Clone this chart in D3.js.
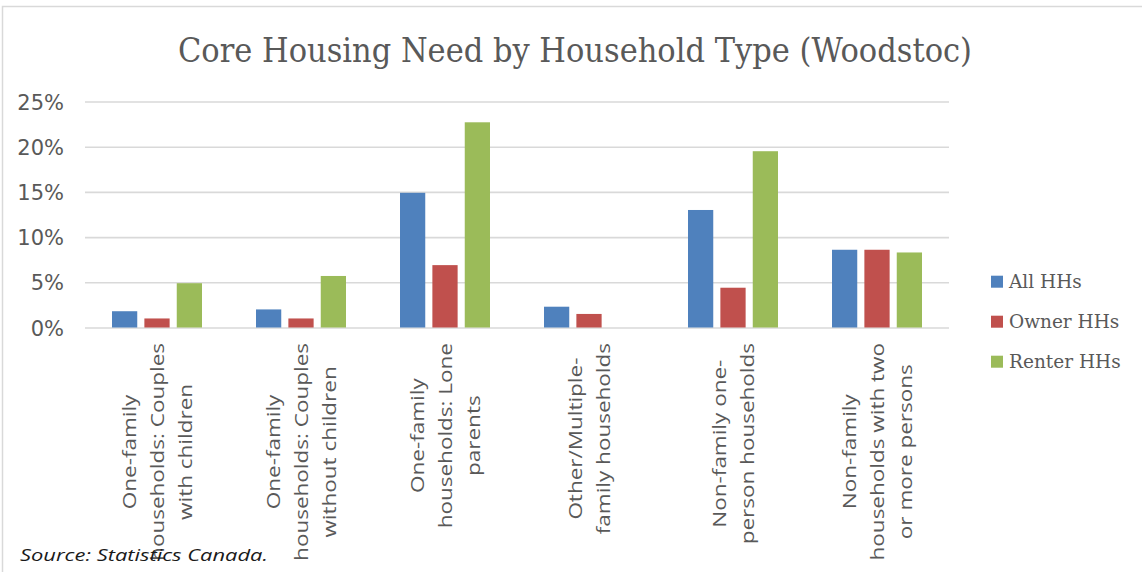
<!DOCTYPE html>
<html>
<head>
<meta charset="utf-8">
<script src="https://cdn.jsdelivr.net/npm/d3@7"></script>
<style>
  html, body { margin: 0; padding: 0; background: #fff; }
  svg { display: block; }
</style>
</head>
<body>
<svg id="chart" width="1142" height="572"></svg>
<script>
// Household types (axis categories), each split into text lines
const categories = [
  ["One-family", "households: Couples", "with children"],
  ["One-family", "households: Couples", "without children"],
  ["One-family", "households: Lone", "parents"],
  ["Other/Multiple-", "family households"],
  ["Non-family one-", "person households"],
  ["Non-family", "households with two", "or more persons"]
];

// Share of households in core housing need (%)
const allHHs    = [1.8, 2.0, 14.9, 2.3, 13.0, 8.6];
const ownerHHs  = [1.0, 1.0, 6.9, 1.5, 4.4, 8.6];
const renterHHs = [4.9, 5.7, 22.7, 0.0, 19.5, 8.3];

const seriesNames  = ["All HHs", "Owner HHs", "Renter HHs"];
const seriesColors = ["#4f81bd", "#c0504d", "#9bbb59"];
const yTicks = [0, 5, 10, 15, 20, 25];

const titleText  = "Core Housing Need by Household Type (Woodstoc)";
const sourceText = "Source: Statistics Canada.";

const seriesValues = [allHHs, ownerHHs, renterHHs];
const catKeys = categories.map((c, i) => i);

const svg = d3.select("#chart");

// outer frame
svg.append("rect")
  .attr("x", 2.5).attr("y", 6.5)
  .attr("width", 1300).attr("height", 700)
  .attr("fill", "#fff")
  .attr("stroke", "#d9d9d9").attr("stroke-width", 1.5);

const plotLeft = 85, plotRight = 949, plotTop = 101.5, plotBottom = 327.5;

const x0 = d3.scaleBand()
  .domain(catKeys)
  .range([plotLeft, plotRight])
  .paddingInner(0.375)
  .paddingOuter(0.1875);

const x1 = d3.scaleBand()
  .domain(seriesNames)
  .range([0, x0.bandwidth()])
  .paddingInner(0.22);

const y = d3.scaleLinear()
  .domain([0, 25])
  .range([plotBottom, plotTop]);

// gridlines + y tick labels
const yAxis = d3.axisLeft(y)
  .tickValues(yTicks)
  .tickSize(-(plotRight - plotLeft))
  .tickPadding(21)
  .tickFormat(d => d + "%");

const gy = svg.append("g")
  .attr("transform", `translate(${plotLeft},0)`)
  .call(yAxis);
gy.select(".domain").remove();
gy.selectAll(".tick line")
  .attr("stroke", "#d9d9d9")
  .attr("stroke-width", 1.6);
gy.selectAll(".tick text")
  .attr("fill", "#595959")
  .attr("font-family", "'DejaVu Sans', sans-serif")
  .attr("font-size", 21)
  .attr("dy", "0.36em");

// bars
const groups = svg.append("g")
  .selectAll("g")
  .data(catKeys)
  .join("g")
  .attr("transform", i => `translate(${x0(i)},0)`);

groups.selectAll("rect")
  .data(i => seriesNames.map((s, k) => ({ s, k, v: seriesValues[k][i] })))
  .join("rect")
  .attr("x", d => x1(d.s))
  .attr("width", x1.bandwidth())
  .attr("y", d => y(d.v))
  .attr("height", d => y(0) - y(d.v))
  .attr("fill", d => seriesColors[d.k]);

// rotated category labels
const labelTop = 343, lineGap = 28.3, stretch = 1.25;
const labelGroups = svg.append("g")
  .selectAll("g")
  .data(catKeys)
  .join("g")
  .attr("transform", i => `translate(${x0(i) + x0.bandwidth() / 2},${labelTop}) rotate(-90) scale(${stretch},1)`);

labelGroups.each(function (i) {
  const g = d3.select(this);
  const lines = categories[i];
  const texts = g.selectAll("text")
    .data(lines)
    .join("text")
    .attr("font-family", "'Open Sans', sans-serif")
    .attr("font-size", 18)
    .attr("fill", "#595959")
    .attr("text-anchor", "middle")
    .attr("dominant-baseline", "central")
    .attr("y", (d, j) => (j - (lines.length - 1) / 2) * lineGap)
    .text(d => d);
  let maxLen = 0;
  texts.each(function () { maxLen = Math.max(maxLen, this.getComputedTextLength()); });
  texts.attr("x", -maxLen / 2);
});

// title
svg.append("text")
  .attr("x", 575).attr("y", 61.7)
  .attr("text-anchor", "middle")
  .attr("font-family", "'DejaVu Serif Condensed', 'DejaVu Serif', serif")
  .attr("font-size", 34)
  .attr("fill", "#595959")
  .attr("textLength", 794)
  .attr("lengthAdjust", "spacingAndGlyphs")
  .text(titleText);

// legend
const legend = svg.append("g")
  .selectAll("g")
  .data(seriesNames)
  .join("g")
  .attr("transform", (d, k) => `translate(991,${281.7 + k * 40})`);
legend.append("rect")
  .attr("x", 0).attr("y", -6)
  .attr("width", 12).attr("height", 12)
  .attr("fill", (d, k) => seriesColors[k]);
legend.append("text")
  .attr("x", 18)
  .attr("dominant-baseline", "central")
  .attr("font-family", "'DejaVu Serif', serif")
  .attr("font-size", 18.5)
  .attr("fill", "#595959")
  .text(d => d);

// source note
svg.append("text")
  .attr("x", 20).attr("y", 560.5)
  .attr("font-family", "'Open Sans', sans-serif")
  .attr("font-style", "italic")
  .attr("font-size", 17)
  .attr("fill", "#1a1a1a")
  .attr("textLength", 248)
  .attr("lengthAdjust", "spacingAndGlyphs")
  .text(sourceText);
</script>
</body>
</html>
